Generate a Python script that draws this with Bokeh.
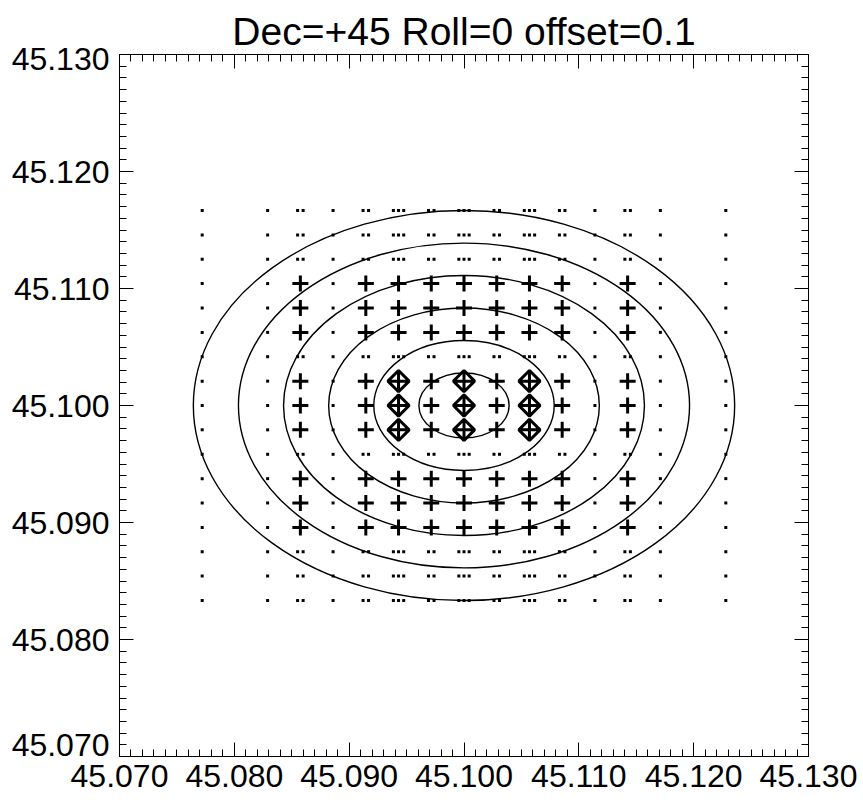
import math
from bokeh.plotting import figure
from bokeh.models import (LinearAxis, FixedTicker, PrintfTickFormatter, Range1d,
                          ColumnDataSource, CustomJSTickFormatter)
from bokeh.embed import file_html
from bokeh.resources import INLINE

# ---------------- data ----------------
title_text = "Dec=+45 Roll=0 offset=0.1"
center_ra = 45.100
center_dec = 45.100
field_dec_deg = 45.0

# grid columns (RA, deg) and rows (Dec, deg)
ra_grid = [45.0772, 45.0829, 45.08575, 45.0886, 45.09145, 45.0943, 45.09715, 45.1000,
           45.10285, 45.1057, 45.10855, 45.1114, 45.11425, 45.1171, 45.1228]
dec_grid = [45.08333, 45.08542, 45.08750, 45.08958, 45.09167, 45.09375, 45.09583, 45.09792,
            45.10000, 45.10208, 45.10417, 45.10625, 45.10833, 45.11042, 45.11250, 45.11458,
            45.11667]

# row kinds, bottom to top: A = dot clusters, B = crosses, C = crosses + diamonds
row_kinds = ["A", "A", "A", "B", "B", "B", "A", "C", "C", "C", "A", "B", "B", "B", "A", "A", "A"]

# number of dots in each cluster for "A" rows (per column)
dot_counts = [1, 1, 2, 1, 2, 3, 2, 3, 2, 3, 2, 1, 2, 1, 1]
# marker per column for "B" and "C" rows
row_b_markers = ["dot", "dot", "plus", "dot", "plus", "plus", "plus", "plus",
                 "plus", "plus", "plus", "dot", "plus", "dot", "dot"]
row_c_markers = ["dot", "dot", "plus", "dot", "plus", "diamond", "plus", "diamond",
                 "plus", "diamond", "plus", "dot", "plus", "dot", "dot"]
# RA offsets of the dots inside a cluster (deg)
cluster_offsets = {1: [0.0], 2: [-0.00024, 0.00024], 3: [-0.00045, 0.0, 0.00045]}

# radii of the circles on the sky (arcsec)
circle_radii_arcsec = [10, 20, 30, 40, 50, 60]

x_ticks = [45.070, 45.080, 45.090, 45.100, 45.110, 45.120, 45.130]
y_ticks = [45.070, 45.080, 45.090, 45.100, 45.110, 45.120, 45.130]
y_tick_labels = ["45.070", "45.080", "45.090", "45.100", "45.110", "45.120", "45.130"]
minor_step = 0.001

# ---------------- build sources ----------------
dots_x, dots_y = [], []
plus_x, plus_y = [], []
dia_x, dia_y = [], []
for j, dec in enumerate(dec_grid):
    kind = row_kinds[j]
    for i, ra in enumerate(ra_grid):
        if kind == "A":
            for off in cluster_offsets[dot_counts[i]]:
                dots_x.append(ra + off)
                dots_y.append(dec)
        else:
            m = (row_b_markers if kind == "B" else row_c_markers)[i]
            if m == "dot":
                dots_x.append(ra); dots_y.append(dec)
            elif m == "plus":
                plus_x.append(ra); plus_y.append(dec)
            else:
                dia_x.append(ra); dia_y.append(dec)

cosd = math.cos(math.radians(field_dec_deg))
ell_w = [2 * r / 3600.0 / cosd for r in circle_radii_arcsec]
ell_h = [2 * r / 3600.0 for r in circle_radii_arcsec]
ell_src = ColumnDataSource(dict(x=[center_ra] * len(ell_w), y=[center_dec] * len(ell_w),
                                w=ell_w, h=ell_h))

FONT = "Liberation Sans"
FS = "32px"

p = figure(width=863, height=802, x_range=Range1d(45.070, 45.130), y_range=Range1d(45.070, 45.130),
           output_backend="svg", toolbar_location=None, title=title_text,
           min_border_left=119, min_border_right=55, min_border_top=54, min_border_bottom=46,
           x_axis_location=None, y_axis_location=None)
p.xgrid.visible = False
p.ygrid.visible = False
p.outline_line_color = "black"
p.outline_line_width = 1
p.background_fill_color = "white"
p.border_fill_color = "white"

p.title.text_font = FONT
p.title.text_font_size = "39px"
p.title.text_font_style = "normal"
p.title.text_color = "black"
p.title.align = "center"
p.title.standoff = 4

minor = [round(45.070 + k * minor_step, 3) for k in range(61)]


def make_axis(ticks, show_labels):
    ax = LinearAxis(ticker=FixedTicker(ticks=ticks, minor_ticks=minor))
    ax.major_tick_in = 14
    ax.major_tick_out = 0
    ax.minor_tick_in = 7
    ax.minor_tick_out = 0
    ax.axis_line_color = "black"
    ax.major_tick_line_color = "black"
    ax.minor_tick_line_color = "black"
    ax.major_tick_line_width = 1
    ax.minor_tick_line_width = 1
    if show_labels:
        ax.formatter = PrintfTickFormatter(format="%.3f")
        ax.major_label_text_font = FONT
        ax.major_label_text_font_size = FS
        ax.major_label_text_color = "black"
        ax.major_label_standoff = 8
    else:
        ax.formatter = CustomJSTickFormatter(code="return ''")
        ax.major_label_text_font_size = "1px"
        ax.major_label_standoff = 0
    return ax


p.add_layout(make_axis(x_ticks, True), "below")
p.add_layout(make_axis(y_ticks, False), "left")
p.add_layout(make_axis(x_ticks, False), "above")
p.add_layout(make_axis(y_ticks, False), "right")

# y tick labels on their own axis: the end labels sit slightly off their ticks
px_per_deg_y = 11700.0
y_label_shift_px = [12, 0, 0, 0, 0, 0, -4]
y_label_pos = [v + s / px_per_deg_y for v, s in zip(y_ticks, y_label_shift_px)]
lab_ax = LinearAxis(ticker=FixedTicker(ticks=y_label_pos, minor_ticks=[]),
                    formatter=CustomJSTickFormatter(args=dict(labels=y_tick_labels),
                                                    code="return labels[index]"))
lab_ax.axis_line_color = None
lab_ax.major_tick_line_color = None
lab_ax.minor_tick_line_color = None
lab_ax.major_tick_in = 0
lab_ax.major_tick_out = 0
lab_ax.minor_tick_in = 0
lab_ax.minor_tick_out = 0
lab_ax.major_label_text_font = FONT
lab_ax.major_label_text_font_size = FS
lab_ax.major_label_text_color = "black"
lab_ax.major_label_standoff = 10
p.add_layout(lab_ax, "left")

p.ellipse(x="x", y="y", width="w", height="h", source=ell_src,
          fill_color=None, line_color="black", line_width=1.4)

p.scatter(dots_x, dots_y, marker="square", size=3, fill_color="black", line_color=None)
p.scatter(plus_x, plus_y, marker="cross", size=16, line_color="black", line_width=3)
p.scatter(dia_x, dia_y, marker="square_x", size=15, angle=math.pi / 4,
          fill_color=None, line_color="black", line_width=3)

open("out.html", "w").write(file_html(p, INLINE))
